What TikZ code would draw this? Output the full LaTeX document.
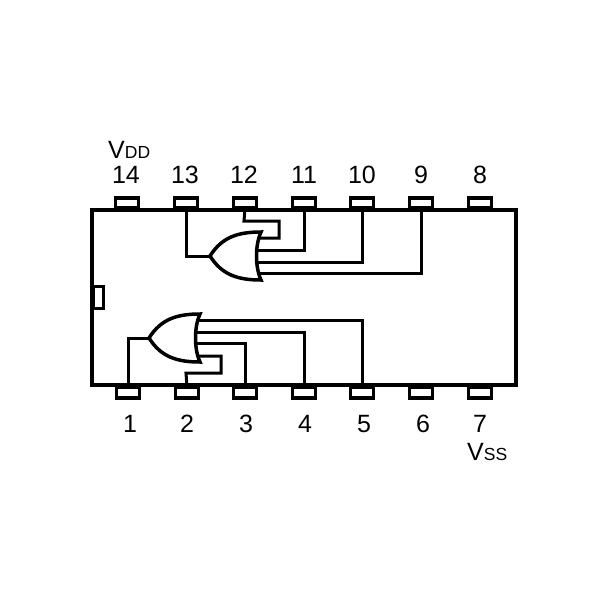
\documentclass[tikz,border=0pt]{standalone}
\usepackage{fontspec}
\setmainfont{Liberation Sans}
\newcommand{\bigtxt}{\fontsize{25}{27}\selectfont}
\newcommand{\subtxt}{\fontsize{17.5}{20}\selectfont}
\tikzset{
  pinbox/.style={draw=black,fill=white,line width=3.6pt,minimum width=23pt,minimum height=10.5pt,inner sep=0pt,outer sep=0pt},
  body/.style={draw=black,line width=4.8pt,line cap=rect},
  wire/.style={draw=black,line width=3pt,line join=miter},
  gateshape/.style={draw=black,line width=3.5pt,line join=miter},
  lbl/.style={inner sep=0pt,anchor=base,font=\bigtxt},
  vlbl/.style={inner sep=0pt,anchor=base west}
}
\begin{document}
\begin{tikzpicture}[x=1pt,y=-1pt]
\useasboundingbox (0,0) rectangle (600,600);
% pins
\foreach \n/\x in {14/127,13/186,12/245,11/304,10/362,9/421,8/480}
  \node[pinbox] (p\n) at (\x,203) {};
\foreach \n/\x in {1/128,2/187,3/245,4/304,5/362,6/421,7/480}
  \node[pinbox] (p\n) at (\x,392.5) {};
% body and notch
\node[draw=black,fill=white,line width=3pt,minimum width=9.5pt,minimum height=22.5pt,inner sep=0pt] (notch) at (98.5,297.5) {};
\draw[body] (92,210) rectangle (516,385);
% gate terminals
\coordinate (ut) at (210,256);
\coordinate (ua) at (258,238);
\coordinate (ub) at (257,250);
\coordinate (uc) at (257,262);
\coordinate (ud) at (259,273);
\coordinate (lt) at (149,338);
\coordinate (la) at (198,320);
\coordinate (lb) at (196,332);
\coordinate (lc) at (196,343);
\coordinate (ld) at (198,356);
% upper wires
\coordinate (w12a) at (244,221);
\coordinate (w12b) at (279,221);
\coordinate (w12c) at (279,238);
\coordinate (w2a) at (186,373);
\coordinate (w2b) at (221,373);
\coordinate (w2c) at (221,356);
\draw[wire] (p13.south) |- (ut);
\draw[wire] (p12.south) -- (w12a) -- (w12b) -- (w12c) -- (ua);
\draw[wire] (p11.south) |- (ub);
\draw[wire] (p10.south) |- (uc);
\draw[wire] (p9.south) |- (ud);
% lower wires
\draw[wire] (p1.north) |- (lt);
\draw[wire] (p2.north) -- (w2a) -- (w2b) -- (w2c) -- (ld);
\draw[wire] (p3.north) |- (lc);
\draw[wire] (p4.north) |- (lb);
\draw[wire] (p5.north) |- (la);
% gates
\draw[gateshape] (ut) .. controls (222,237) and (238,232) .. (261,232)
  .. controls (255,245) and (255,267) .. (261,280)
  .. controls (238,280) and (222,275) .. (ut) -- cycle;
\draw[gateshape] (lt) .. controls (161,319) and (177,314) .. (200,314)
  .. controls (194,327) and (194,349) .. (200,362)
  .. controls (177,362) and (161,357) .. (lt) -- cycle;
% labels
\foreach \n/\x in {14/126,13/185,12/244,11/304,10/362,9/421,8/480}
  \node[lbl] (t\n) at (\x,183.5) {\n};
\foreach \n/\x in {1/130,2/187,3/246,4/305,5/364,6/423,7/480}
  \node[lbl] (t\n) at (\x,432) {\n};
\node[vlbl] (vdd) at (108,158.5) {\bigtxt V\subtxt DD};
\node[vlbl] (vss) at (467,460) {\bigtxt V\subtxt SS};
\end{tikzpicture}
\end{document}
